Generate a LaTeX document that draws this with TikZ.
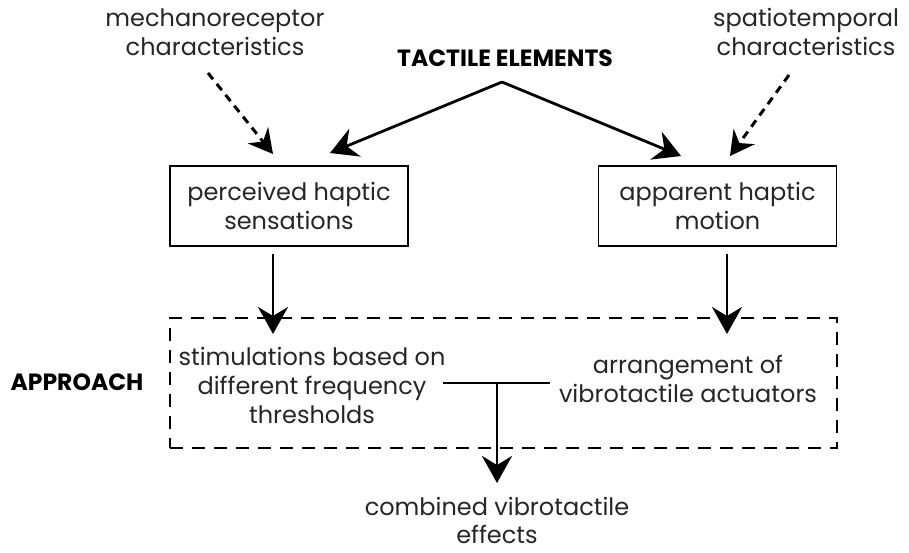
\documentclass[tikz,border=0pt]{standalone}
\usepackage{fontspec}
\setmainfont{Poppins}
\usetikzlibrary{arrows.meta}
\begin{document}
\begin{tikzpicture}[x=1pt,y=-1pt,
  txt/.style={font=\fontsize{24}{29}\selectfont, align=center, text=black!85, inner sep=0pt},
  hdr/.style={font=\fontsize{23.5}{28}\selectfont\bfseries, inner sep=0pt},
  box/.style={draw, line width=1.6pt, minimum width=238pt, minimum height=80pt, inner sep=0pt},
  arr/.style={line width=2.8pt, -{Stealth[length=27pt,width=30pt,inset=9pt]}},
  darr/.style={line width=3pt, dash pattern=on 8pt off 6pt, -{Stealth[length=24pt,width=26pt,inset=8pt]}}
]
\useasboundingbox (0,0) rectangle (909,552);
\node[txt] (mech) at (215,32) {mechanoreceptor\\characteristics};
\node[txt] (spat) at (806,32) {spatiotemporal\\characteristics};
\node[hdr] (tact) at (505,58) {TACTILE ELEMENTS};
\coordinate (apex) at (502,82);
\node[box] (perc) at (289,206) {};
\node[txt] at (perc.center) {perceived haptic\\sensations};
\node[box] (appa) at (717.5,206) {};
\node[txt] at (appa.center) {apparent haptic\\motion};
\node[draw, line width=1.5pt, dash pattern=on 13pt off 9pt, minimum width=667pt, minimum height=130pt, inner sep=0pt] (appr) at (503.5,383) {};
\node[hdr] (apprl) at (77,382) {APPROACH};
\node[txt] (stim) at (312,385) {stimulations based on\\different frequency\\thresholds};
\node[txt] (arrg) at (688,379) {arrangement of\\vibrotactile actuators};
\node[txt, font=\fontsize{24}{28}\selectfont] (comb) at (497,520) {combined vibrotactile\\effects};
\coordinate (mechs) at (208,73);
\coordinate (mecht) at (273,154);
\coordinate (spats) at (789,75);
\coordinate (spatt) at (730,156);
\coordinate (lt) at (330,153);
\coordinate (rt) at (681,156);
\coordinate (hl) at (443,383);
\coordinate (hr) at (550,383);
\coordinate (hm) at (497,383);
\coordinate (ct) at (497,483);
\coordinate (pt) at (273,334);
\coordinate (at) at (727,334);
\draw[darr] (mechs) -- (mecht);
\draw[darr] (spats) -- (spatt);
\draw[arr] (apex) -- (lt);
\draw[arr] (apex) -- (rt);
\draw[arr] (perc.south) ++(-16,7) -- (pt);
\draw[arr] (appa.south) ++(9.5,7) -- (at);
\draw[line width=2.8pt] (hl) -- (hr);
\draw[arr] (hm) -- (ct);
\end{tikzpicture}
\end{document}
